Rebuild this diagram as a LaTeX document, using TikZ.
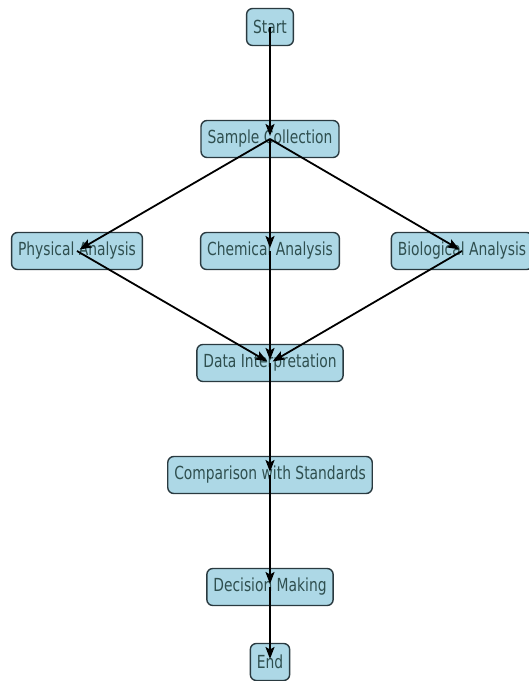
\documentclass[tikz,border=0pt]{standalone}
\usepackage{fontspec}
\setmainfont{DejaVu Sans}[FakeStretch=0.77]
\usetikzlibrary{arrows.meta}
\definecolor{boxfill}{HTML}{ADD8E6}
\definecolor{boxedge}{HTML}{2A3A40}
\definecolor{boxtext}{HTML}{2F4F4F}
\begin{document}
\begin{tikzpicture}[x=1pt,y=1pt,
  stepbox/.style={draw=boxedge, line width=1.4pt, fill=boxfill, rounded corners=6pt,
    text=boxtext, font=\fontsize{18}{20}\selectfont, inner xsep=6.5pt, inner ysep=0pt,
    minimum height=37pt, anchor=center},
  link/.style={line width=1.8pt, black, -{Stealth[length=12pt,width=9pt,inset=2.5pt]}, shorten >=3pt}]
\useasboundingbox (0,0) rectangle (529,681);
\fill[white] (0,0) rectangle (529,681);
\node[stepbox] (start) at (270,654) {Start};
\node[stepbox] (sample) at (270,542) {Sample Collection};
\node[stepbox] (phys) at (77,430) {Physical Analysis};
\node[stepbox] (chem) at (270,430) {Chemical Analysis};
\node[stepbox] (bio) at (462,430) {Biological Analysis};
\node[stepbox] (data) at (270,318) {Data Interpretation};
\node[stepbox] (comp) at (270,206) {Comparison with Standards};
\node[stepbox] (dec) at (270,94) {Decision Making};
\node[stepbox] (end) at (270,19) {End};
\draw[link] (start.center) -- (sample.center);
\draw[link] (sample.center) -- (phys.center);
\draw[link] (sample.center) -- (chem.center);
\draw[link] (sample.center) -- (bio.center);
\draw[link] (phys.center) -- (data.center);
\draw[link] (chem.center) -- (data.center);
\draw[link] (bio.center) -- (data.center);
\draw[link] (data.center) -- (comp.center);
\draw[link] (comp.center) -- (dec.center);
\draw[link] (dec.center) -- (end.center);
\end{tikzpicture}
\end{document}
